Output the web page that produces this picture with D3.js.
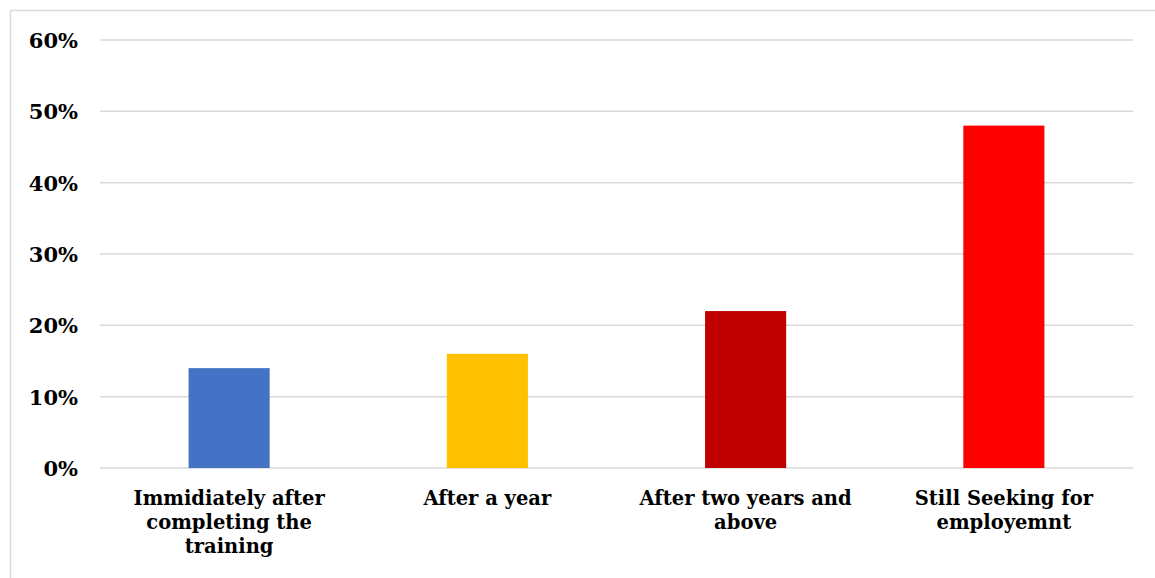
<!DOCTYPE html>
<html>
<head>
<meta charset="utf-8">
<script src="https://cdn.jsdelivr.net/npm/d3@7"></script>
<style>
  html, body { margin: 0; padding: 0; background: #fff; }
  svg { display: block; }
  text { font-family: "DejaVu Serif", "Liberation Serif", serif; font-weight: bold; fill: #000; }
</style>
</head>
<body>
<svg id="chart" width="1155" height="578"></svg>
<script>
// Employment timing after training
const categories = [
  "Immidiately after completing the training",
  "After a year",
  "After two years and above",
  "Still Seeking for employemnt"
];
const categoryLines = [
  ["Immidiately after", "completing the", "training"],
  ["After a year"],
  ["After two years and", "above"],
  ["Still Seeking for", "employemnt"]
];
const values = [0.14, 0.16, 0.22, 0.48];
const barColors = ["#4472c4", "#ffc000", "#c00000", "#ff0000"];
const yTicks = [0, 0.1, 0.2, 0.3, 0.4, 0.5, 0.6];

const svg = d3.select("#chart");
const W = 1155, H = 578;
const plot = { left: 100, right: 1133, top: 40, bottom: 468 };

// outer frame
svg.append("rect")
  .attr("x", 10.5).attr("y", 10.5)
  .attr("width", W + 10).attr("height", H + 10)
  .attr("fill", "none").attr("stroke", "#d9d9d9").attr("stroke-width", 1.5);

const x = d3.scaleBand()
  .domain(categories)
  .range([plot.left, plot.right])
  .paddingInner(0.686)
  .paddingOuter(0.343);

const y = d3.scaleLinear()
  .domain([0, 0.6])
  .range([plot.bottom, plot.top]);

// gridlines
svg.append("g")
  .selectAll("line")
  .data(yTicks)
  .join("line")
  .attr("x1", plot.left).attr("x2", plot.right)
  .attr("y1", d => y(d)).attr("y2", d => y(d))
  .attr("stroke", "#d9d9d9").attr("stroke-width", 1.5);

// y axis labels
const yAxis = d3.axisLeft(y)
  .tickValues(yTicks)
  .tickFormat(d3.format(".0%"))
  .tickSize(0)
  .tickPadding(0);
const gy = svg.append("g")
  .attr("transform", `translate(78,0)`)
  .call(yAxis);
gy.select(".domain").remove();
gy.selectAll("text")
  .attr("font-size", 21)
  .attr("font-family", null)
  .attr("dy", "0.35em");

// bars
svg.append("g")
  .selectAll("rect")
  .data(values)
  .join("rect")
  .attr("x", (d, i) => x(categories[i]))
  .attr("width", x.bandwidth())
  .attr("y", d => y(d))
  .attr("height", d => y(0) - y(d))
  .attr("fill", (d, i) => barColors[i]);

// category labels (wrapped)
const labels = svg.append("g")
  .selectAll("text")
  .data(categories)
  .join("text")
  .attr("text-anchor", "middle")
  .attr("font-size", 19.5)
  .attr("x", d => x(d) + x.bandwidth() / 2)
  .attr("y", 505);
labels.each(function(d, i) {
  d3.select(this).selectAll("tspan")
    .data(categoryLines[i])
    .join("tspan")
    .attr("x", x(d) + x.bandwidth() / 2)
    .attr("dy", (t, j) => j === 0 ? 0 : 24)
    .text(t => t);
});
</script>
</body>
</html>
